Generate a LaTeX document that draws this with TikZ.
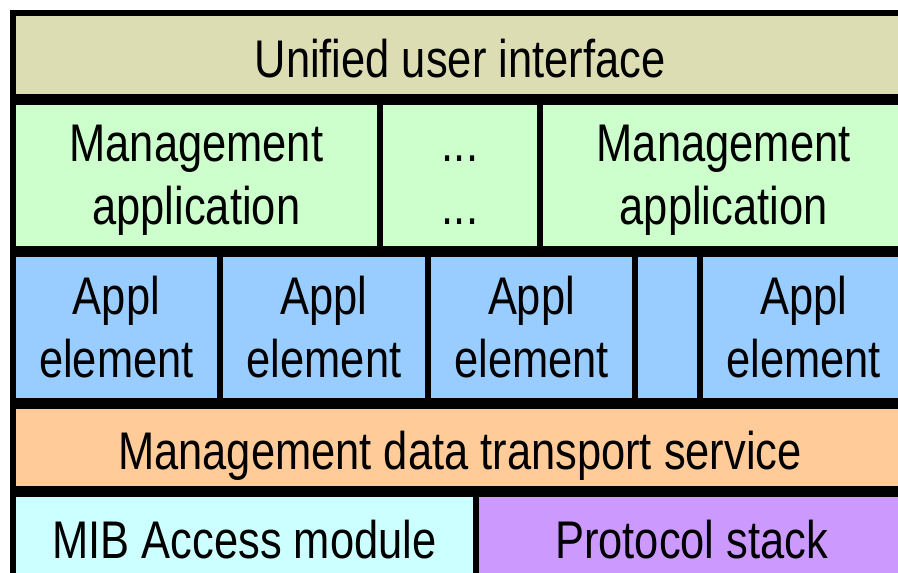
\documentclass[tikz,border=0pt]{standalone}
\usepackage{fontspec}
\setmainfont{Liberation Sans}[FakeStretch=0.82]
\usepackage{tikz}
\usetikzlibrary{calc}

\definecolor{ifacecol}{HTML}{DDDDB3}
\definecolor{appcol}{HTML}{CCFFCC}
\definecolor{elemcol}{HTML}{99CCFF}
\definecolor{transcol}{HTML}{FFCC99}
\definecolor{mibcol}{HTML}{CCFFFF}
\definecolor{stackcol}{HTML}{CC99FF}

\tikzset{
  cell/.style={draw=black, line width=5.5pt, rectangle, anchor=north west,
    inner sep=0pt, outer sep=0pt, align=center, text depth=0pt,
    font=\fontsize{53}{63}\selectfont},
  oneline/.style={cell, text height=45pt}
}

\begin{document}
\begin{tikzpicture}[x=1pt,y=-1pt]
    \useasboundingbox (0,0) rectangle (898,573);
    \clip (0,0) rectangle (898,573);
    % top row
    \node[oneline, fill=ifacecol, minimum width=894.5pt, minimum height=83.5pt] (ui) at (12.75,12.75) {Unified user interface};
    % management applications
    \node[cell, fill=appcol, minimum width=367.25pt, minimum height=146.5pt] (app1) at (12.75,101.75) {Management\\application};
    \node[cell, fill=appcol, minimum width=160pt, minimum height=146.5pt] (appd) at (380,101.75) {\vphantom{M}...\\...};
    \node[cell, fill=appcol, minimum width=367.25pt, minimum height=146.5pt] (app2) at (540,101.75) {Management\\application};
    % application elements
    \node[cell, fill=elemcol, minimum width=207.25pt, minimum height=146.5pt] (el1) at (12.75,253.75) {Appl\\element};
    \node[cell, fill=elemcol, minimum width=208pt, minimum height=146.5pt] (el2) at (220,253.75) {Appl\\element};
    \node[cell, fill=elemcol, minimum width=207pt, minimum height=146.5pt] (el3) at (428,253.75) {Appl\\element};
    \node[cell, fill=elemcol, minimum width=65pt, minimum height=146.5pt] (eld) at (635,253.75) {};
    \node[cell, fill=elemcol, minimum width=207.25pt, minimum height=146.5pt] (el4) at (700,253.75) {Appl\\element};
    % transport
    \node[oneline, fill=transcol, minimum width=894.5pt, minimum height=82.5pt] (mdts) at (12.75,405.75) {Management data transport service};
    % bottom row
    \node[oneline, fill=mibcol, minimum width=463.25pt, minimum height=83.5pt] (mib) at (12.75,493.75) {MIB Access module};
    \node[oneline, fill=stackcol, minimum width=431.25pt, minimum height=83.5pt] (stack) at (476,493.75) {Protocol stack};
\end{tikzpicture}
\end{document}
